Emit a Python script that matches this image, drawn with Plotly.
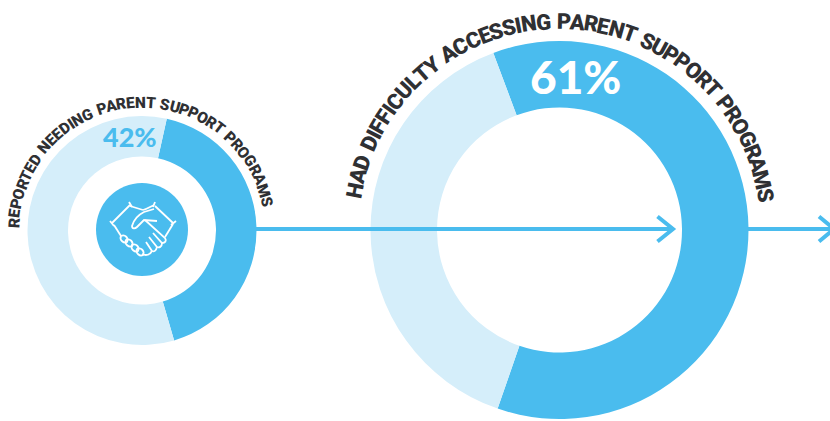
import math
import plotly.graph_objects as go

W, H = 830, 421
BLUE = "#4ABCEE"
PALE = "#D5EEFA"
INK = "#2F3033"

# Survey shares shown by the two rings
needed_label = "REPORTED NEEDING PARENT SUPPORT PROGRAMS"
needed_share = 42
access_label = "HAD DIFFICULTY ACCESSING PARENT SUPPORT PROGRAMS"
access_share = 61

# Relative letter widths used to space the curved captions
ADV = dict(A=.67, B=.63, C=.65, D=.65, E=.56, F=.55, G=.68, H=.71, I=.29, J=.55, K=.63, L=.54,
           M=.87, N=.71, O=.68, P=.63, Q=.68, R=.62, S=.61, T=.60, U=.65, V=.65, W=.88,
           X=.63, Y=.61, Z=.60)
ADV[" "] = .30


def ring(cx, cy, r_out, r_in, share, rotation):
    # Donut placed by its pixel box inside the paper domain
    return go.Pie(
        values=[share, 100 - share],
        sort=False,
        direction="clockwise",
        rotation=rotation,
        hole=r_in / r_out,
        domain=dict(x=[(cx - r_out) / W, (cx + r_out) / W],
                    y=[1 - (cy + r_out) / H, 1 - (cy - r_out) / H]),
        marker=dict(colors=[BLUE, PALE], line=dict(width=0)),
        textinfo="none",
        hoverinfo="skip",
        showlegend=False,
    )


def arc_text(text, cx, cy, radius, start_deg, end_deg, size):
    # One rotated annotation per letter, spread along a circular arc
    widths = [ADV[c] for c in text]
    total = sum(widths) - widths[0] / 2 - widths[-1] / 2
    pos = 0.0
    out = []
    for i, c in enumerate(text):
        if i:
            pos += (widths[i - 1] + widths[i]) / 2
        a = start_deg + (end_deg - start_deg) * pos / total
        if c != " ":
            rad = math.radians(a)
            out.append(dict(x=cx + radius * math.sin(rad), y=cy - radius * math.cos(rad),
                            text=c, textangle=a, showarrow=False,
                            xanchor="center", yanchor="middle",
                            font=dict(family="Roboto", size=size, color=INK, weight=900),
                            xref="x", yref="y"))
    return out


def stroke(path, color="white", width=1.8):
    return dict(type="path", path=path, xref="x", yref="y", layer="above",
                line=dict(color=color, width=width), fillcolor="rgba(0,0,0,0)")


fig = go.Figure()

# Invisible carrier so the pixel-scaled axes exist for shapes and captions
fig.add_trace(go.Scatter(x=[0, W], y=[0, H], mode="markers", marker=dict(opacity=0),
                         hoverinfo="skip", showlegend=False))

fig.add_trace(ring(142, 230.5, 114.5, 74, needed_share, 12.5))
fig.add_trace(ring(559.5, 230, 189, 122.5, access_share, -20.5))

shapes = [
    dict(type="circle", x0=96, x1=188, y0=183, y1=276, xref="x", yref="y",
         fillcolor=BLUE, line=dict(width=0), layer="above"),
    # Flow line with its two chevrons; the solid slice of the big ring interrupts it
    stroke("M 256 229 L 672 229", BLUE, 4),
    stroke("M 747 229 L 833 229", BLUE, 4),
    stroke("M 657.5 216.5 L 673 229 L 657.5 241.5", BLUE, 4),
    stroke("M 819 216.5 L 834 229 L 819 241.5", BLUE, 4),
]

# Handshake pictogram
shapes += [
    stroke("M 112 223 L 130 205"),
    stroke("M 110 221 L 114 226"),
    stroke("M 129 202 L 132 207"),
    stroke("M 155 206 L 173 223"),
    stroke("M 155 202 L 153 207"),
    stroke("M 176 221 L 171 225"),
    stroke("M 130 206 L 143 210"),
    stroke("M 143 210 C 147 209 150 207 154 205"),
    stroke("M 114 225 L 121 236"),
    stroke("M 173 224 L 165 237"),
    stroke("M 154 209 L 144 212 C 138 215 134 219 132 226 C 132 229 135 229 137 227 "
           "L 144 220 L 157 221"),
    stroke("M 145 220 L 165 238 C 167 241 165 243 162 243 L 153 233"),
    stroke("M 162 243 C 162 247 159 248 157 247 L 149 237"),
    stroke("M 157 247 C 156 251 154 252 152 251 L 146 242"),
    stroke("M 152 251 C 150 255 146 256 142 254"),
]
for ox, oy in [(124, 239), (129, 243), (135, 248), (140, 252)]:
    shapes.append(stroke("M %g %g C %g %g %g %g %g %g C %g %g %g %g %g %g Z" % (
        ox - 3, oy - 3, ox + 1, oy - 5, ox + 5, oy - 1, ox + 3, oy + 3,
        ox, oy + 5, ox - 5, oy + 1, ox - 3, oy - 3)))

annotations = arc_text(needed_label, 142, 230.5, 128, -86.5, 77, 15.5)
annotations += arc_text(access_label, 559.5, 230, 208.5, -79, 80.5, 22)
annotations += [
    dict(x=130, y=136, text="%d%%" % needed_share, showarrow=False, xref="x", yref="y",
         font=dict(family="Lato", size=27, color=BLUE, weight=900)),
    dict(x=575, y=76, text="%d%%" % access_share, showarrow=False, xref="x", yref="y",
         font=dict(family="Lato", size=46, color="white", weight=900)),
]

fig.update_layout(
    width=W, height=H,
    margin=dict(l=0, r=0, t=0, b=0),
    paper_bgcolor="white", plot_bgcolor="rgba(0,0,0,0)",
    xaxis=dict(range=[0, W], visible=False, fixedrange=True),
    yaxis=dict(range=[H, 0], visible=False, fixedrange=True),
    shapes=shapes,
    annotations=annotations,
)

fig.write_html("out.html", config=dict(displayModeBar=False))
